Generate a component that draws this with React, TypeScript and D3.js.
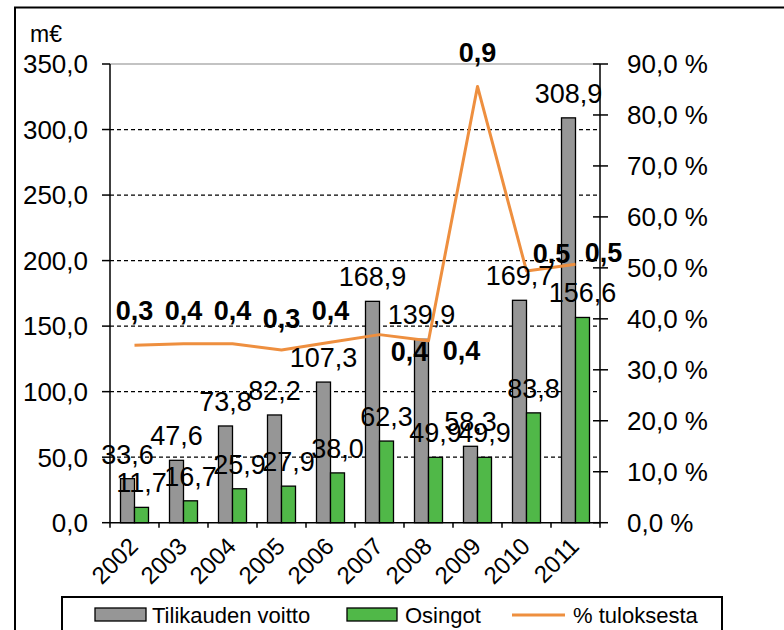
import React from "react";
import * as d3 from "d3";

const years = ["2002", "2003", "2004", "2005", "2006", "2007", "2008", "2009", "2010", "2011"];
const voitto = [33.6, 47.6, 73.8, 82.2, 107.3, 168.9, 139.9, 58.3, 169.7, 308.9];
const osingot = [11.7, 16.7, 25.9, 27.9, 38.0, 62.3, 49.9, 49.9, 83.8, 156.6];
const tuloksesta = [34.8, 35.1, 35.1, 33.9, 35.4, 36.9, 35.7, 85.6, 49.4, 50.7];
const tulosLabels = ["0,3", "0,4", "0,4", "0,3", "0,4", "0,4", "0,4", "0,9", "0,5", "0,5"];
const leftTicks = [0, 50, 100, 150, 200, 250, 300, 350];
const rightTicks = [0, 10, 20, 30, 40, 50, 60, 70, 80, 90];

// manual nudges of the line labels (dx, dy from the point), like in the original sheet
const labelNudge: [number, number][] = [
	[0, -25], [0, -24], [0, -24], [0, -22], [0, -22],
	[30, 26], [33, 19], [0, -24], [25, -8], [28, -2],
];

const FONT = "'Liberation Sans', Arial, sans-serif";
const GRAY = "#969696";
const GREEN = "#50B848";
const ORANGE = "#EE8F3F";

const comma = (v: number) => d3.format(".1f")(v).replace(".", ",");

export default function App() {
	const width = 784;
	const height = 630;
	const left = 110;
	const right = 600;
	const top = 64;
	const bottom = 522.7;

	const x = d3.scaleBand<string>().domain(years).range([left, right]);
	const bw = x.bandwidth();
	const barW = 14;
	const y = d3.scaleLinear().domain([0, 350]).range([bottom, top]);
	const y2 = d3.scaleLinear().domain([0, 90]).range([bottom, top]);
	const cx = (yr: string) => (x(yr) || 0) + bw / 2;

	const line = d3
		.line<number>()
		.x((_, i) => cx(years[i]))
		.y((d) => y2(d));

	return (
		<svg width={width} height={height} style={{ display: "block", position: "absolute", left: 0, top: 0 }}>
			<rect x={0} y={0} width={width} height={height} fill="#fff" />
			{/* outer frame, runs off the page */}
			<rect x={15} y={7.5} width={800} height={700} fill="none" stroke="#000" strokeWidth={2} />

			<text x={30} y={42} fontFamily={FONT} fontSize={23}>m€</text>

			{/* gridlines */}
			{leftTicks.filter((t) => t > 0 && t < 350).map((t) => (
				<line key={t} x1={left} x2={right} y1={y(t)} y2={y(t)} stroke="#000" strokeWidth={1.2} strokeDasharray="4,3" />
			))}
			<line x1={left} x2={right} y1={y(350)} y2={y(350)} stroke="#888" strokeWidth={1.2} />

			{/* bars */}
			{years.map((yr, i) => (
				<g key={yr}>
					<rect x={cx(yr) - barW} y={y(voitto[i])} width={barW} height={bottom - y(voitto[i])} fill={GRAY} stroke="#000" strokeWidth={1.3} />
					<rect x={cx(yr)} y={y(osingot[i])} width={barW} height={bottom - y(osingot[i])} fill={GREEN} stroke="#000" strokeWidth={1.3} />
				</g>
			))}

			{/* axes */}
			<line x1={left} x2={left} y1={top} y2={bottom} stroke="#000" strokeWidth={1.5} />
			<line x1={right} x2={right} y1={top} y2={bottom} stroke="#000" strokeWidth={1.5} />
			<line x1={left} x2={right} y1={bottom} y2={bottom} stroke="#000" strokeWidth={1.5} />
			{leftTicks.map((t) => (
				<g key={t}>
					<line x1={left - 8} x2={left} y1={y(t)} y2={y(t)} stroke="#000" strokeWidth={1.5} />
					<text x={88} y={y(t)} dy="0.36em" textAnchor="end" fontFamily={FONT} fontSize={26}>{comma(t)}</text>
				</g>
			))}
			{rightTicks.map((t) => (
				<g key={t}>
					<line x1={right - 7} x2={right + 8} y1={y2(t)} y2={y2(t)} stroke="#000" strokeWidth={1.5} />
					<text x={627} y={y2(t)} dy="0.36em" fontFamily={FONT} fontSize={26}>{comma(t) + " %"}</text>
				</g>
			))}
			{[...years.map((yr) => x(yr) || 0), right].map((v, i) => (
				<line key={i} x1={v} x2={v} y1={bottom} y2={bottom + 5} stroke="#000" strokeWidth={1.5} />
			))}
			{years.map((yr) => (
				<text key={yr} transform={`translate(${cx(yr) + 5},${bottom + 25}) rotate(-45)`} textAnchor="end" fontFamily={FONT} fontSize={24}>{yr}</text>
			))}

			{/* line */}
			<path d={line(tuloksesta) || undefined} fill="none" stroke={ORANGE} strokeWidth={3} strokeLinejoin="round" />

			{/* bar labels */}
			{years.map((yr, i) => (
				<g key={yr} fontFamily={FONT} fontSize={27} textAnchor="middle">
					<text x={cx(yr) - barW / 2} y={y(voitto[i]) - 15}>{comma(voitto[i])}</text>
					<text x={cx(yr) + barW / 2} y={y(osingot[i]) - 15}>{comma(osingot[i])}</text>
				</g>
			))}

			{/* line labels */}
			{years.map((yr, i) => (
				<text key={yr} x={cx(yr) + labelNudge[i][0]} y={y2(tuloksesta[i]) + labelNudge[i][1]} textAnchor="middle" fontFamily={FONT} fontSize={27} fontWeight="bold">
					{tulosLabels[i]}
				</text>
			))}

			{/* legend */}
			<rect x={62} y={597} width={660} height={60} fill="#fff" stroke="#000" strokeWidth={2} />
			<rect x={95} y={608} width={51} height={13} fill={GRAY} stroke="#000" strokeWidth={1.3} />
			<text x={152} y={623} fontFamily={FONT} fontSize={22}>Tilikauden voitto</text>
			<rect x={347} y={608} width={50} height={13} fill={GREEN} stroke="#000" strokeWidth={1.3} />
			<text x={405} y={623} fontFamily={FONT} fontSize={22}>Osingot</text>
			<line x1={512} x2={565} y1={615} y2={615} stroke={ORANGE} strokeWidth={3} />
			<text x={573} y={623} fontFamily={FONT} fontSize={22}>% tuloksesta</text>
		</svg>
	);
}
